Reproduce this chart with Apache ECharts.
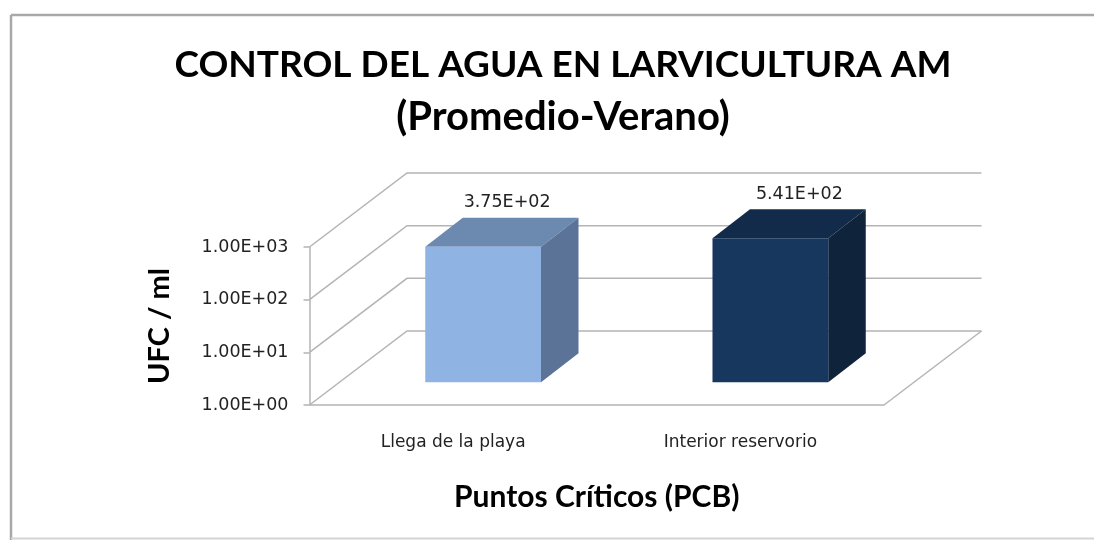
<!DOCTYPE html>
<html>
<head>
<meta charset="utf-8">
<style>html,body{margin:0;padding:0;background:#fff}#c{width:1094px;height:540px}</style>
<script src="https://cdn.jsdelivr.net/npm/echarts@6/dist/echarts.min.js"></script>
</head>
<body>
<div id="c"></div>
<script>
const categories = ['Llega de la playa', 'Interior reservorio'];
const values = [375, 541];
const yTicks = [1, 10, 100, 1000];
const titleLine1 = 'CONTROL DEL AGUA EN LARVICULTURA AM';
const titleLine2 = '(Promedio-Verano)';
const xName = 'Puntos Críticos (PCB)';
const yName = 'UFC / ml';

const wall = { dx: 97.5, dy: -74 };
const barBase = { dx: 30, dy: -22.7 };
const barDepth = { dx: 37.5, dy: -29 };
const palette = [
  { front: '#8FB3E3', top: '#6C89B0', side: '#5B7397' },
  { front: '#17375E', top: '#132B4A', side: '#0F233B' }
];
const labelNudge = [24, 29];
const lineColor = '#b4b4b4';
const textFont = 'DejaVu Sans';

function sci(v) {
  const [m, e] = Number(v).toExponential(2).split('e');
  const n = Math.abs(parseInt(e, 10));
  return m + 'E' + (e[0] === '-' ? '-' : '+') + String(n).padStart(2, '0');
}

function wallItem(params, api) {
  const cs = params.coordSys;
  const y = api.coord([0, api.value(0)])[1];
  const x0 = cs.x, x1 = cs.x + cs.width;
  return {
    type: 'polyline',
    shape: { points: [[x0, y], [x0 + wall.dx, y + wall.dy], [x1 + wall.dx, y + wall.dy]] },
    style: { fill: null, stroke: lineColor, lineWidth: 1.5 }
  };
}

function floorItem(params, api) {
  const cs = params.coordSys;
  const y = api.coord([0, api.value(0)])[1];
  const x1 = cs.x + cs.width;
  return {
    type: 'line',
    shape: { x1: x1, y1: y, x2: x1 + wall.dx, y2: y + wall.dy },
    style: { stroke: lineColor, lineWidth: 1.5 }
  };
}

function barItem(params, api) {
  const i = api.value(0), v = api.value(1);
  const c = palette[i];
  const top = api.coord([i, v]);
  const bottom = api.coord([i, yTicks[0]]);
  const w = api.size([1, 0])[0] * 0.403;
  const xl = top[0] + barBase.dx - w / 2, xr = xl + w;
  const yt = top[1] + barBase.dy, yb = bottom[1] + barBase.dy;
  const dx = barDepth.dx, dy = barDepth.dy;
  return {
    type: 'group',
    children: [
      { type: 'polygon', shape: { points: [[xl, yt], [xr, yt], [xr + dx, yt + dy], [xl + dx, yt + dy]] }, style: { fill: c.top } },
      { type: 'polygon', shape: { points: [[xr, yt], [xr + dx, yt + dy], [xr + dx, yb + dy], [xr, yb]] }, style: { fill: c.side } },
      { type: 'rect', shape: { x: xl, y: yt, width: w, height: yb - yt }, style: { fill: c.front } },
      { type: 'text', x: top[0] + barBase.dx + labelNudge[i], y: yt + dy - 15,
        style: { text: sci(v), fill: '#222', font: '17.5px "' + textFont + '"', align: 'center', verticalAlign: 'middle' } }
    ]
  };
}

const chart = echarts.init(document.getElementById('c'), null, { renderer: 'canvas' });
chart.setOption({
  animation: false,
  backgroundColor: '#fff',
  graphic: [
    { type: 'line', silent: true, shape: { x1: 11, y1: 15, x2: 1094, y2: 15 }, style: { stroke: '#a8a8a8', lineWidth: 2.5 } },
    { type: 'line', silent: true, shape: { x1: 11, y1: 15, x2: 11, y2: 540 }, style: { stroke: '#a8a8a8', lineWidth: 2.5 } },
    { type: 'line', silent: true, shape: { x1: 11, y1: 538.5, x2: 1094, y2: 538.5 }, style: { stroke: '#d4d4d4', lineWidth: 2 } }
  ],
  title: {
    text: '{a|' + titleLine1 + '}\n{b|' + titleLine2 + '}',
    left: 558, top: 34, textAlign: 'center',
    textStyle: {
      rich: {
        a: { fontFamily: 'Lato', fontWeight: 'bold', fontSize: 37, lineHeight: 52, color: '#000', align: 'center' },
        b: { fontFamily: 'Lato', fontWeight: 'bold', fontSize: 40, lineHeight: 52, color: '#000', align: 'center' }
      }
    }
  },
  grid: { left: 309.5, top: 247, width: 574.5, height: 158 },
  xAxis: {
    type: 'category',
    data: categories,
    axisLine: { lineStyle: { color: lineColor, width: 1.5 } },
    axisTick: { show: false },
    axisLabel: { color: '#222', fontFamily: textFont, fontSize: 17, margin: 29 },
    name: xName, nameLocation: 'middle', nameGap: 77,
    nameTextStyle: { fontFamily: 'Lato', fontWeight: 'bold', fontSize: 30, color: '#000' }
  },
  yAxis: {
    type: 'log', logBase: 10, min: yTicks[0], max: yTicks[yTicks.length - 1],
    axisLine: { show: true, lineStyle: { color: lineColor, width: 1.5 } },
    axisTick: { show: true, length: 6, lineStyle: { color: lineColor, width: 1.5 } },
    splitLine: { show: false },
    axisLabel: { color: '#222', fontFamily: textFont, fontSize: 17.5, margin: 21, formatter: sci },
    name: yName, nameLocation: 'middle', nameGap: 135, nameRotate: 90,
    nameTextStyle: { fontFamily: 'Lato', fontWeight: 'bold', fontSize: 29, color: '#000' }
  },
  series: [
    { type: 'custom', renderItem: wallItem, coordinateSystem: 'cartesian2d', clip: false, silent: true, z: 1,
      encode: { y: 0 }, data: yTicks.map(t => [t]) },
    { type: 'custom', renderItem: floorItem, coordinateSystem: 'cartesian2d', clip: false, silent: true, z: 1,
      encode: { y: 0 }, data: [[yTicks[0]]] },
    { type: 'custom', renderItem: barItem, coordinateSystem: 'cartesian2d', clip: false, silent: true, z: 3,
      encode: { x: 0, y: 1 }, data: values.map((v, i) => [i, v]) }
  ]
});
</script>
</body>
</html>
